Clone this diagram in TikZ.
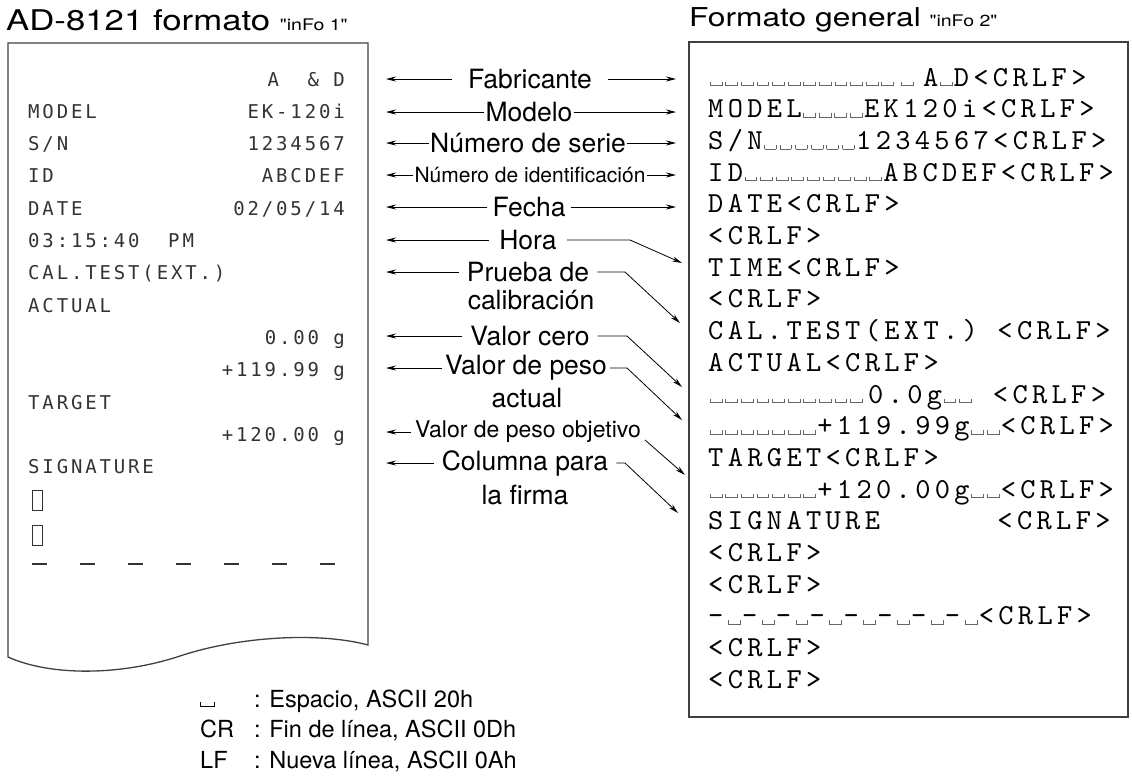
\documentclass[tikz,border=0pt]{standalone}
\usepackage{fontspec}
\setmainfont{TeX Gyre Heros}
\newfontfamily\receiptfont{DejaVu Sans Mono}[LetterSpace=15]
\newfontfamily\crlffont{lmmono10-regular.otf}[LetterSpace=15]
\newfontfamily\widefont{TeX Gyre Heros}[FakeStretch=1.22]
\usetikzlibrary{arrows.meta}

\newcommand\seg[1]{{\fontsize{16}{16}\selectfont #1}}
\newcommand\blank{\kern1.5pt{\color{black!60}\rule{0.8pt}{4.5pt}\rule{11pt}{0.8pt}\rule{0.8pt}{4.5pt}}\kern1.5pt}
\newcommand\blanks[1]{\foreach\k in {1,...,#1}{\blank}}
\newcommand\spacemark{\rule{0.8pt}{5pt}\rule{13pt}{0.8pt}\rule{0.8pt}{5pt}}

\tikzset{
    ttl/.style = {font=\widefont\fontsize{28.5}{30}\selectfont, inner sep=0pt, anchor=west},
    lbl/.style = {font=\fontsize{26.5}{28}\selectfont, inner ysep=1pt, inner xsep=5pt},
    lblsmall/.style = {lbl, font=\fontsize{21}{23}\selectfont},
    paper/.style = {draw=black!75, line width=1.3pt},
    prn/.style = {draw=black!80, line width=0.8pt},
    rl/.style = {font=\receiptfont\fontsize{19}{20}\selectfont, text=black!80, inner sep=0pt, anchor=base west},
    rr/.style = {rl, anchor=base east},
    cr/.style = {font=\crlffont\fontsize{29}{30}\selectfont, inner sep=0pt, anchor=base west},
    ptr/.style = {-{Stealth[length=10pt, width=5pt]}, line width=0.8pt},
    legend/.style = {font=\fontsize{23.5}{30.5}\selectfont, inner sep=0pt, anchor=base west}
}

\begin{document}
\begin{tikzpicture}[x=1pt, y=-1pt]
    \useasboundingbox (0,0) rectangle (1132,782);

    % titles
    \node[ttl] (ttlA) at (6,20) {AD-8121 formato \seg{"inFo 1"}};
    \node[ttl, font=\widefont\fontsize{26}{28}\selectfont] (ttlB) at (689,20) {Formato general \seg{"inFo 2"}};

    % printed receipt
    \draw[paper] (8,657) -- (8,43) -- (368,43) -- (368,645)
        .. controls (320,632) and (240,636) .. (180,656)
        .. controls (120,676) and (50,676) .. cycle;
    \node[rr] (pMaker) at (345,86) {A\ \ \&\ D};
    \node[rl] (pModel) at (28,118.3) {MODEL};
    \node[rr] (pModelV) at (345,118.3) {EK-120i};
    \node[rl] (pSn) at (28,150.6) {S/N};
    \node[rr] (pSnV) at (345,150.6) {1234567};
    \node[rl] (pId) at (28,182.9) {ID};
    \node[rr] (pIdV) at (345,182.9) {ABCDEF};
    \node[rl] (pDate) at (28,215.2) {DATE};
    \node[rr] (pDateV) at (345,215.2) {02/05/14};
    \node[rl] (pTime) at (28,247.5) {03:15:40\ \ PM};
    \node[rl] (pCal) at (28,279.8) {CAL.TEST(EXT.)};
    \node[rl] (pAct) at (28,312.1) {ACTUAL};
    \node[rr] (pZero) at (345,344.4) {0.00 g};
    \node[rr] (pWt) at (345,376.7) {+119.99 g};
    \node[rl] (pTgt) at (28,409) {TARGET};
    \node[rr] (pTgtV) at (345,441.3) {+120.00 g};
    \node[rl] (pSig) at (28,473.6) {SIGNATURE};
    \draw[prn] (32,490) rectangle (42,510);
    \draw[prn] (32,525) rectangle (42,545);
    \foreach \i in {0,...,6}
        \draw[prn, line width=2.5pt] (32+48*\i,564) -- (47+48*\i,564);

    % general format
    \draw[paper] (689,42) rectangle (1128,717);
    \foreach \txt [count=\i from 0] in {
        {\blanks{12}\kern4pt\blank\kern8pt A\blank D<CRLF>},
        {MODEL\blanks{4}EK120i<CRLF>},
        {S/N\blanks{6}1234567<CRLF>},
        {ID\blanks{9}ABCDEF<CRLF>},
        {DATE<CRLF>},
        {<CRLF>},
        {TIME<CRLF>},
        {<CRLF>},
        {CAL.TEST(EXT.)\ <CRLF>},
        {ACTUAL<CRLF>},
        {\blanks{10}\kern4pt 0.0g\blanks{2}\ <CRLF>},
        {\blanks{7}+119.99g\blanks{2}<CRLF>},
        {TARGET<CRLF>},
        {\blanks{7}+120.00g\blanks{2}<CRLF>},
        {SIGNATURE\ \ \ \ \ \ <CRLF>},
        {<CRLF>},
        {<CRLF>},
        {-\kern3pt\blank-\kern3pt\blank-\kern3pt\blank-\kern3pt\blank-\kern3pt\blank-\kern3pt\blank-\kern3pt\blank-\kern3pt\blank<CRLF>},
        {<CRLF>},
        {<CRLF>}}
        \node[cr] (f\i) at (708,86+31.7*\i) {\txt};

    % labels
    \node[lbl, inner xsep=16pt] (fab) at (530,79) {Fabricante};
    \node[lbl, inner xsep=1pt] (mod) at (529,112) {Modelo};
    \node[lbl, inner xsep=1pt] (ser) at (528,143) {Número de serie};
    \node[lblsmall, inner xsep=1pt] (idn) at (530,175) {Número de identificación};
    \node[lbl] (fec) at (529,207) {Fecha};
    \node[lbl, inner xsep=10pt] (hor) at (528,240) {Hora};
    \node[lbl, inner xsep=8pt] (pru) at (528,272) {Prueba de};
    \node[lbl] (pruB) at (531,300) {calibración};
    \node[lbl, inner xsep=8pt] (cer) at (530,336) {Valor cero};
    \node[lbl, inner xsep=3pt] (pes) at (526,368) {Valor de peso};
    \node[lbl] (pesB) at (527,398) {actual};
    \node[lblsmall, font=\fontsize{23}{25}\selectfont, inner xsep=4pt] (obj) at (528,432) {Valor de peso objetivo};
    \node[lbl, inner xsep=8pt] (col) at (525,463) {Columna para};
    \node[lbl] (colB) at (525,495) {la firma};

    % connectors
    \coordinate (lx) at (386,0);
    \coordinate (rx) at (676,0);
    \coordinate (tTime) at (682,263);
    \coordinate (tCal) at (680,323);
    \coordinate (tZero) at (682,387);
    \coordinate (tWt) at (682,420);
    \coordinate (tTgt) at (685,475);
    \coordinate (tSig) at (678,513);
    \foreach \n in {fab,mod,ser,idn,fec,hor,pru,cer,pes,obj,col}
        \draw[ptr] (\n.west) -- (\n.west -| lx);
    \foreach \n in {fab,mod,ser,idn,fec}
        \draw[ptr] (\n.east) -- (\n.east -| rx);
    \draw[ptr] (hor.east) -- (hor.east -| 630,0) -- (tTime);
    \draw[ptr] (pru.east) -- (pru.east -| 625,0) -- (tCal);
    \draw[ptr] (cer.east) -- (cer.east -| 627,0) -- (tZero);
    \draw[ptr] (pes.east) -- (pes.east -| 627,0) -- (tWt);
    \draw[ptr] ([yshift=-8pt]obj.east) -- (tTgt);
    \draw[ptr] (col.east) -- (col.east -| 625,0) -- (tSig);

    % key
    \node[legend] (key) at (200,707) {\begin{tabular}[t]{@{}l@{\hspace{20pt}}l@{}}
        \spacemark & : Espacio, ASCII 20h\\
        CR & : Fin de línea, ASCII 0Dh\\
        LF & : Nueva línea, ASCII 0Ah
    \end{tabular}};
\end{tikzpicture}
\end{document}
